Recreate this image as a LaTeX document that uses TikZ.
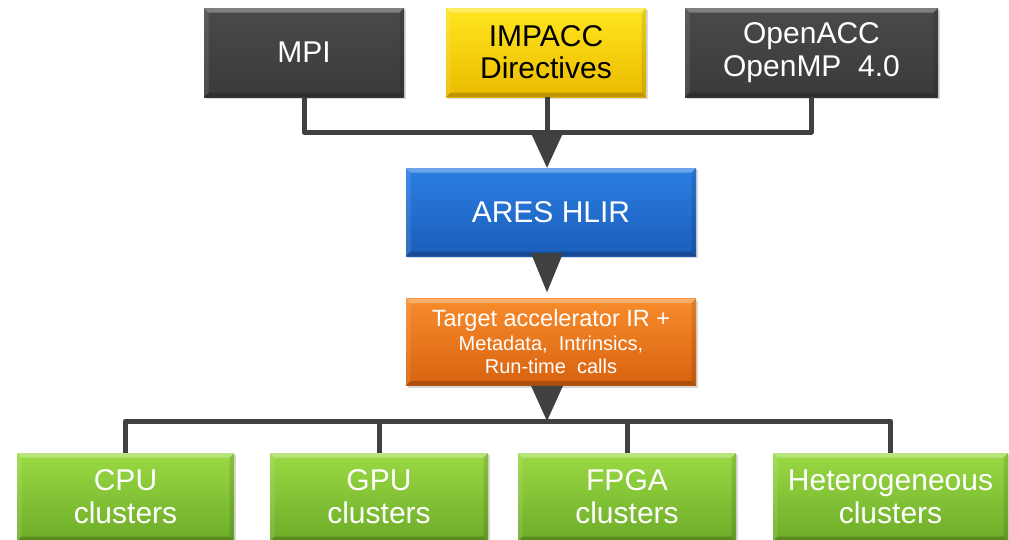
\documentclass[tikz,border=0pt]{standalone}
\usepackage{fontspec}
\setmainfont{Liberation Sans}
\usetikzlibrary{shadows,calc}

\definecolor{busgray}{HTML}{404040}
\definecolor{darkA}{HTML}{4A4A4A}
\definecolor{darkB}{HTML}{3A3A3A}
\definecolor{yelA}{HTML}{FFE61E}
\definecolor{yelB}{HTML}{EBBB00}
\definecolor{bluA}{HTML}{2B7EE2}
\definecolor{bluB}{HTML}{1B5EBA}
\definecolor{oraA}{HTML}{F88C2C}
\definecolor{oraB}{HTML}{D8620F}
\definecolor{grnA}{HTML}{9ADA44}
\definecolor{grnB}{HTML}{6DAC28}

% bevelled edges painted inside every box
\newcommand\bevelpaint{%
  \path (path picture bounding box.north west) coordinate (p1)
        (path picture bounding box.north east) coordinate (p2)
        (path picture bounding box.south east) coordinate (p3)
        (path picture bounding box.south west) coordinate (p4)
        ($(p1)+(4.5pt,-4.5pt)$) coordinate (q1)
        ($(p2)+(-4.5pt,-4.5pt)$) coordinate (q2)
        ($(p3)+(-4.5pt,4.5pt)$) coordinate (q3)
        ($(p4)+(4.5pt,4.5pt)$) coordinate (q4);
  \fill[white,opacity=.3] (p1)--(p2)--(q2)--(q1)--cycle;
  \fill[white,opacity=.1] (p1)--(q1)--(q4)--(p4)--cycle;
  \fill[black,opacity=.1] (p2)--(q2)--(q3)--(p3)--cycle;
  \fill[black,opacity=.2] (p4)--(q4)--(q3)--(p3)--cycle;
}

\tikzset{
  x=1pt, y=-1pt,
  boxbase/.style={rectangle, inner sep=0pt, align=center,
    font=\fontsize{30}{33}\selectfont,
    drop shadow={shadow xshift=1.5pt, shadow yshift=-2pt, opacity=.3},
    path picture=\bevelpaint},
  darkbox/.style={boxbase, top color=darkA, bottom color=darkB, text=white},
  yellowbox/.style={boxbase, top color=yelA, bottom color=yelB, text=black},
  bluebox/.style={boxbase, top color=bluA, bottom color=bluB, text=white},
  orangebox/.style={boxbase, top color=oraA, bottom color=oraB, text=white},
  greenbox/.style={boxbase, top color=grnA, bottom color=grnB, text=white},
  bus/.style={draw=busgray, line width=5pt, line join=round},
  tri/.style={fill=busgray},
}

\begin{document}
\begin{tikzpicture}
\useasboundingbox (0,0) rectangle (1009,539);
\fill[white] (0,0) rectangle (1009,539);
\clip (0,0) rectangle (1009,539);

% source front ends
\node[darkbox, minimum width=200pt, minimum height=89pt] (mpi) at (304,52.5) {MPI};
\node[yellowbox, minimum width=200pt, minimum height=89pt,
      font=\fontsize{30}{32}\selectfont] (impacc) at (546,52.5) {IMPACC\\Directives};
\node[darkbox, minimum width=253pt, minimum height=89pt] (oacc) at (811.5,52.5) {OpenACC\\OpenMP~~4.0};

% intermediate representations
\node[bluebox, minimum width=290pt, minimum height=88pt] (hlir) at (551,212) {ARES HLIR};
\node[orangebox, minimum width=290pt, minimum height=87pt,
      font=\fontsize{20}{23.5}\selectfont] (tir) at (551,342)
  {{\fontsize{23.5}{23.5}\selectfont Target accelerator IR +}\\Metadata,~~Intrinsics,\\Run-time~~calls};

% back-end targets
\node[greenbox, minimum width=217pt, minimum height=88pt] (cpu) at (125.5,497) {CPU\\clusters};
\node[greenbox, minimum width=218pt, minimum height=88pt] (gpu) at (379,497) {GPU\\clusters};
\node[greenbox, minimum width=218pt, minimum height=88pt] (fpga) at (627,497) {FPGA\\clusters};
\node[greenbox, minimum width=235pt, minimum height=88pt] (het) at (890.5,497) {Heterogeneous\\clusters};

% upper bus into the HLIR
\coordinate (topjoin) at (547,132);
\draw[bus] (mpi.south) |- (topjoin);
\draw[bus] (oacc.south) |- (topjoin);
\draw[bus] (impacc.south -| topjoin) -- (topjoin);
\fill[tri] ($(topjoin)+(-16.5,0)$) -- ($(topjoin)+(16.5,0)$) -- (topjoin |- hlir.north) -- cycle;

% HLIR to target IR
\coordinate (hlirout) at ($(topjoin |- hlir.south)+(0,-3)$);
\fill[tri] ($(hlirout)+(-16,0)$) -- ($(hlirout)+(16,0)$) -- ($(topjoin |- tir.north)+(0,-6)$) -- cycle;

% lower bus out to the clusters
\coordinate (botjoin) at (547,421);
\draw[bus] (botjoin) -| (cpu.north);
\draw[bus] (botjoin) -| (gpu.north);
\draw[bus] (botjoin) -| (fpga.north);
\draw[bus] (botjoin) -| (het.north);
\fill[tri] ($(topjoin |- tir.south)+(-16,0)$) -- ($(topjoin |- tir.south)+(16,0)$) -- (botjoin) -- cycle;
\end{tikzpicture}
\end{document}
